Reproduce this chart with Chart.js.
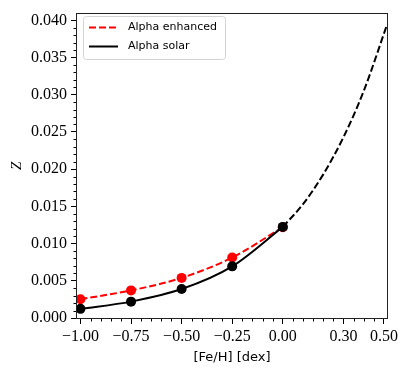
<!DOCTYPE html>
<html>
<head>
<meta charset="utf-8">
<script src="https://cdn.jsdelivr.net/npm/chart.js@4.4.0/dist/chart.umd.min.js"></script>
<style>
  html, body { margin: 0; padding: 0; background: #fff; }
</style>
</head>
<body>
<canvas id="metalChart" width="408" height="375"></canvas>
<script>
// [Fe/H] grid and metallicity values
const feh = [-1.0, -0.75, -0.5, -0.25, 0.0];
const zEnhanced = [0.00252, 0.00371, 0.00539, 0.00813, 0.0122];
const zSolar = [0.00123, 0.0022, 0.00389, 0.00694, 0.01224];
// dashed extrapolation beyond solar
const fehExt = [0.0, 0.1, 0.2, 0.3, 0.4, 0.515];
const zExt = [0.01224, 0.0153, 0.0193, 0.0243, 0.0305, 0.0394];

const xTicks = [-1.0, -0.75, -0.5, -0.25, 0.0, 0.3, 0.5];
const yTicks = [0, 0.005, 0.010, 0.015, 0.020, 0.025, 0.030, 0.035, 0.040];
const legendLabels = ['Alpha enhanced', 'Alpha solar'];

const toPoints = (xs, ys) => xs.map((x, i) => ({ x: x, y: ys[i] }));
const fmtNum = (v, d) => (v < 0 ? '\u2212' : '') + Math.abs(v).toFixed(d);

// minor ticks, frame and in-axes legend, matplotlib style
const axesDecor = {
  id: 'axesDecor',
  afterDraw(chart) {
    const { ctx, chartArea: a, scales: { x, y } } = chart;
    ctx.save();
    ctx.strokeStyle = '#000';
    ctx.lineWidth = 1;
    ctx.beginPath();
    for (let v = -1.0; v <= 0.5001; v += 0.05) {
      const r = Math.round(v * 100) / 100;
      if (xTicks.some(t => Math.abs(t - r) < 1e-6)) continue;
      const px = Math.round(x.getPixelForValue(r)) + 0.5;
      ctx.moveTo(px, a.bottom);
      ctx.lineTo(px, a.bottom + 3.5);
    }
    for (let v = 0; v <= 0.0405; v += 0.001) {
      const r = Math.round(v * 1000) / 1000;
      if (Math.abs(r / 0.005 - Math.round(r / 0.005)) < 1e-6) continue;
      const py = Math.round(y.getPixelForValue(r)) + 0.5;
      ctx.moveTo(a.left, py);
      ctx.lineTo(a.left - 3.5, py);
    }
    ctx.stroke();

    // frame
    ctx.strokeStyle = '#222';
    ctx.strokeRect(Math.round(a.left) - 0.5, Math.round(a.top) - 0.5,
      Math.round(a.right - a.left) + 1, Math.round(a.bottom - a.top) + 1);

    // legend
    const bx = 83.5, by = 16.5, bw = 142, bh = 43, rr = 3;
    ctx.beginPath();
    ctx.moveTo(bx + rr, by);
    ctx.arcTo(bx + bw, by, bx + bw, by + bh, rr);
    ctx.arcTo(bx + bw, by + bh, bx, by + bh, rr);
    ctx.arcTo(bx, by + bh, bx, by, rr);
    ctx.arcTo(bx, by, bx + bw, by, rr);
    ctx.closePath();
    ctx.fillStyle = 'rgba(255,255,255,0.8)';
    ctx.fill();
    ctx.strokeStyle = '#d4d4d4';
    ctx.stroke();

    const rows = [
      { label: legendLabels[0], color: '#ff0000', dash: [7, 3], y: 27.5 },
      { label: legendLabels[1], color: '#000000', dash: [], y: 46.5 }
    ];
    ctx.font = '11px "DejaVu Sans"';
    ctx.textBaseline = 'middle';
    ctx.textAlign = 'left';
    rows.forEach(r => {
      ctx.beginPath();
      ctx.setLineDash(r.dash);
      ctx.strokeStyle = r.color;
      ctx.lineWidth = 2;
      ctx.moveTo(89, r.y);
      ctx.lineTo(118, r.y);
      ctx.stroke();
      ctx.setLineDash([]);
      ctx.fillStyle = '#000';
      ctx.fillText(r.label, 128, r.y);
    });
    ctx.restore();
  }
};

const ctx = document.getElementById('metalChart').getContext('2d');

new Chart(ctx, {
  type: 'line',
  data: {
    datasets: [
      {
        label: legendLabels[1],
        data: toPoints(feh, zSolar),
        borderColor: '#000',
        backgroundColor: '#000',
        borderWidth: 2,
        pointRadius: 5,
        pointBorderWidth: 0,
        cubicInterpolationMode: 'monotone',
        order: 0
      },
      {
        label: legendLabels[0],
        data: toPoints(feh, zEnhanced),
        borderColor: '#ff0000',
        backgroundColor: '#ff0000',
        borderWidth: 2,
        borderDash: [7, 3],
        pointRadius: 5,
        pointBorderWidth: 0,
        cubicInterpolationMode: 'monotone',
        order: 1
      },
      {
        label: 'extrapolation',
        data: toPoints(fehExt, zExt),
        borderColor: '#000',
        borderWidth: 2,
        borderDash: [7, 3],
        pointRadius: 0,
        cubicInterpolationMode: 'monotone',
        order: 2
      }
    ]
  },
  options: {
    responsive: false,
    animation: false,
    layout: { padding: { top: 10, right: 21, left: 0, bottom: 0 } },
    plugins: {
      legend: { display: false },
      tooltip: { enabled: false }
    },
    scales: {
      x: {
        type: 'linear',
        min: -1.017,
        max: 0.515,
        afterFit: s => { s.height = 57; },
        afterBuildTicks: s => { s.ticks = xTicks.map(v => ({ value: v })); },
        grid: { drawOnChartArea: false, tickLength: 6, tickColor: '#000', tickWidth: 1 },
        border: { display: false },
        ticks: {
          color: '#000',
          padding: 3,
          maxRotation: 0,
          font: { family: '"Liberation Serif"', size: 16 },
          callback: v => fmtNum(v, 2)
        },
        title: {
          display: true,
          text: '[Fe/H] [dex]',
          color: '#000',
          font: { family: '"DejaVu Sans"', size: 13 },
          padding: { top: 0, bottom: 10 }
        }
      },
      y: {
        type: 'linear',
        min: 0,
        max: 0.0409,
        afterFit: s => { s.width = 77; },
        afterBuildTicks: s => { s.ticks = yTicks.map(v => ({ value: v })); },
        grid: { drawOnChartArea: false, tickLength: 6, tickColor: '#000', tickWidth: 1 },
        border: { display: false },
        ticks: {
          color: '#000',
          padding: 4,
          font: { family: '"Liberation Serif"', size: 16 },
          callback: v => fmtNum(v, 3)
        },
        title: {
          display: true,
          text: 'Z',
          color: '#000',
          font: { family: '"Liberation Serif"', size: 15, style: 'italic' },
          padding: { top: 8, bottom: 0 }
        }
      }
    }
  },
  plugins: [axesDecor]
});
</script>
</body>
</html>
